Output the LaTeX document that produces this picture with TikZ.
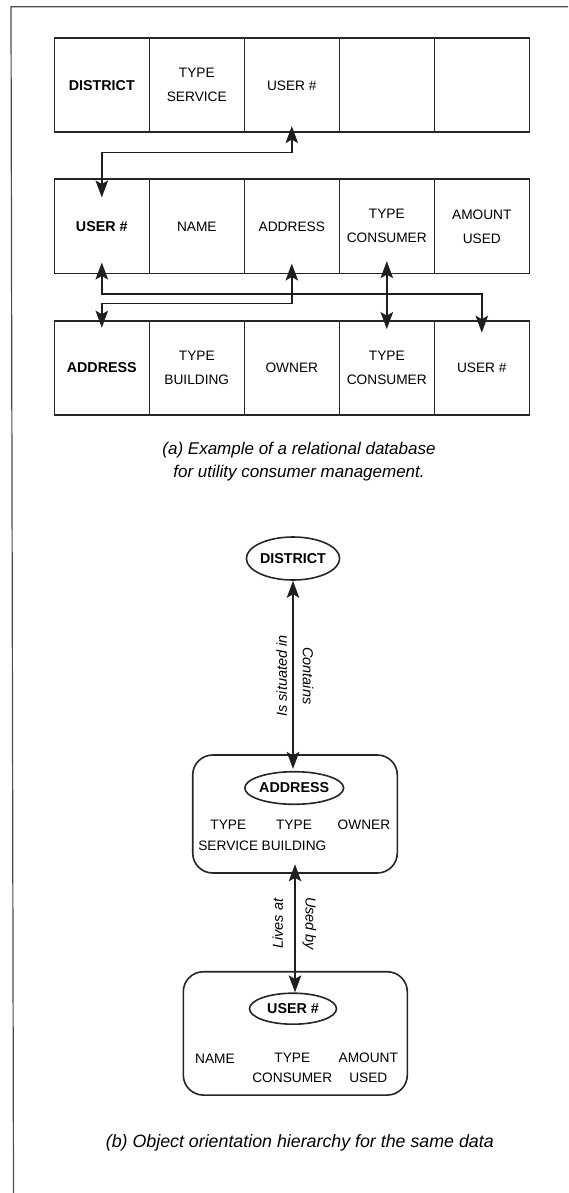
\documentclass[tikz,border=0pt]{standalone}
\usepackage{fontspec}
\setmainfont{Liberation Sans}
\usetikzlibrary{arrows.meta,shapes.geometric}

\begin{document}
\begin{tikzpicture}[x=1pt,y=-1pt,
  ink/.style={line width=1.6pt, draw=black!85},
  cell/.style={ink, minimum width=95pt, minimum height=94pt, inner sep=0pt,
    align=center, font=\fontsize{13.7}{24}\selectfont},
  key/.style={font=\bfseries\fontsize{14.3}{17}\selectfont},
  tip/.tip={Stealth[length=17pt,width=12.5pt,inset=3.5pt]},
  link/.style={line width=1.5pt, draw=black!88, tip-tip},
  oval/.style={ellipse, ink, inner sep=0pt, font=\bfseries\fontsize{14.3}{17}\selectfont},
  rbox/.style={ink, rounded corners=20pt, inner sep=0pt},
  attr/.style={align=center, inner sep=0pt, font=\fontsize{13.7}{20.5}\selectfont},
  rel/.style={font=\itshape\fontsize{14.5}{17}\selectfont, inner sep=0pt, anchor=south},
  caption/.style={align=center, inner sep=0pt, font=\itshape\fontsize{17}{23}\selectfont}
]
\useasboundingbox (0,0) rectangle (568,1193);

% page frame
\draw[line width=1.2pt, black!70] (568,6.7) -- (11,6.7) -- (13.5,1193);

% ---- (a) relational tables ----
\node[cell,key] (r1c1) at (101.8,85.3) {DISTRICT};
\node[cell]     (r1c2) at (196.8,85.3) {TYPE\\SERVICE};
\node[cell]     (r1c3) at (291.8,85.3) {USER \#};
\node[cell]     (r1c4) at (386.8,85.3) {};
\node[cell]     (r1c5) at (481.8,85.3) {};

\node[cell,key] (r2c1) at (101.8,226.3) {USER \#};
\node[cell]     (r2c2) at (196.8,226.3) {NAME};
\node[cell]     (r2c3) at (291.8,226.3) {ADDRESS};
\node[cell]     (r2c4) at (386.8,226.3) {TYPE\\CONSUMER};
\node[cell]     (r2c5) at (481.8,226.3) {AMOUNT\\USED};

\node[cell,key] (r3c1) at (101.8,367.9) {ADDRESS};
\node[cell]     (r3c2) at (196.8,367.9) {TYPE\\BUILDING};
\node[cell]     (r3c3) at (291.8,367.9) {OWNER};
\node[cell]     (r3c4) at (386.8,367.9) {TYPE\\CONSUMER};
\node[cell]     (r3c5) at (481.8,367.9) {USER \#};

% key links between tables
\draw[link, shorten <=-7pt, shorten >=-19pt] (r1c3.south) -- ++(0,19.4) -| (r2c1.north);
\draw[link, shorten <=-11.6pt, shorten >=-12.6pt] (r2c1.south) -- ++(0,20) -| (r3c5.north);
\draw[link, shorten <=-10.6pt, shorten >=-7.6pt] (r2c3.south) -- ++(0,29.4) -| (r3c1.north);
\draw[link, shorten <=-13pt, shorten >=-9pt] (r2c4.south) -- (r3c4.north);

\node[caption] (capa) at (299,461.5) {(a) Example of a relational database\\for utility consumer management.};

% ---- (b) object hierarchy ----
\node[oval, minimum width=86pt, minimum height=43pt] (district) at (293,558.5) {DISTRICT};

\node[rbox, minimum width=204.6pt, minimum height=118pt] (addrbox) at (295,814) {};
\node[oval, minimum width=87pt, minimum height=32.6pt] (addr) at (294.2,788) {ADDRESS};
\node[attr] (aserv)  at (228.3,835.2) {TYPE\\SERVICE};
\node[attr] (abuild) at (294,835.2) {TYPE\\BUILDING};
\node[attr] (aown)   at (364,824.3) {OWNER};

\node[rbox, minimum width=224pt, minimum height=123.3pt] (userbox) at (295.3,1033.4) {};
\node[oval, minimum width=87pt, minimum height=31pt] (user) at (293,1008.7) {USER \#};
\node[attr] (uname) at (215,1058.3) {NAME};
\node[attr] (ucons) at (292.3,1067.8) {TYPE\\CONSUMER};
\node[attr] (uamt)  at (368.3,1067.8) {AMOUNT\\USED};

\draw[link, shorten >=2pt] (district.south) -- (district.south |- addr.north)
  node[rel, midway, rotate=90, outer sep=6pt] {Is situated in}
  node[rel, midway, rotate=-90, outer sep=9.8pt] {Contains};

\draw[link, shorten <=-9.5pt] (addrbox.south) -- (addrbox.south |- user.north)
  node[rel, pos=0.42, rotate=90, outer sep=12pt] {Lives at}
  node[rel, pos=0.42, rotate=-90, outer sep=7.6pt] {Used by};

\node[caption, font=\itshape\fontsize{17.8}{23}\selectfont] (capb) at (299.8,1143) {(b) Object orientation hierarchy for the same data};
\end{tikzpicture}
\end{document}
